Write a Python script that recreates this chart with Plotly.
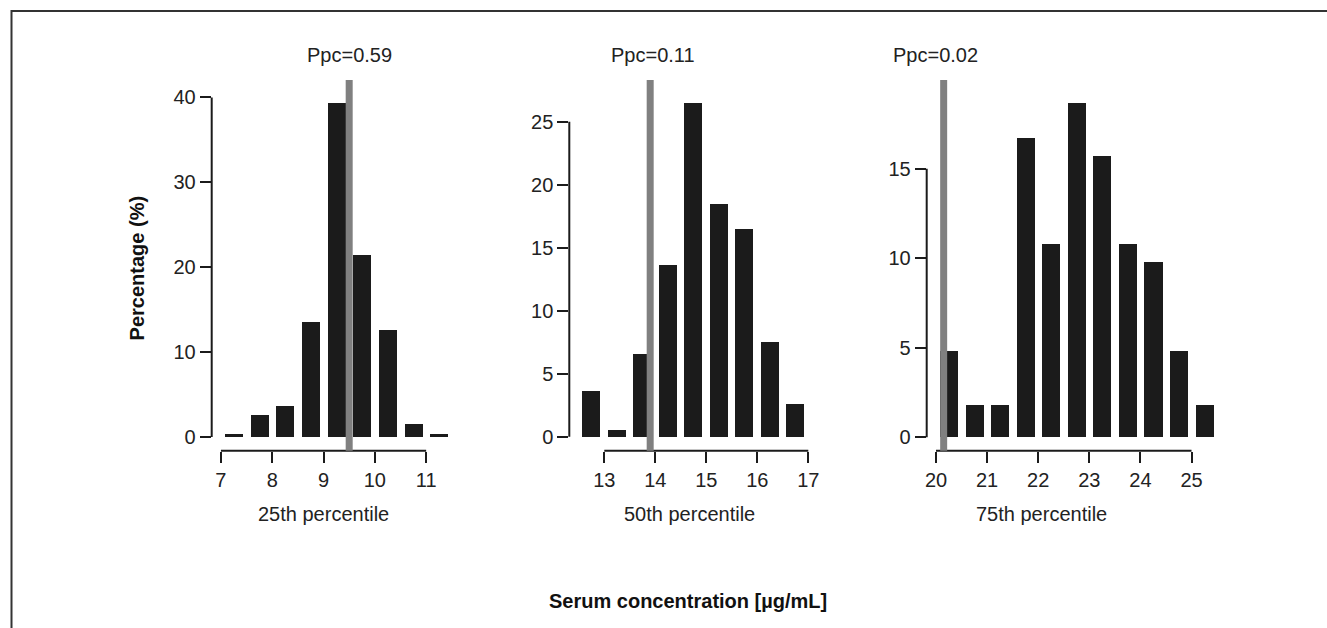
import plotly.graph_objects as go

W, H = 1327, 628

# ---------------- data ----------------
bins_25 = [7.25, 7.75, 8.25, 8.75, 9.25, 9.75, 10.25, 10.75, 11.25]
pct_25 = [0.3, 2.6, 3.6, 13.6, 39.4, 21.4, 12.6, 1.5, 0.3]

bins_50 = [12.75, 13.25, 13.75, 14.25, 14.75, 15.25, 15.75, 16.25, 16.75]
pct_50 = [3.6, 0.5, 6.6, 13.6, 26.5, 18.5, 16.5, 7.5, 2.6]

bins_75 = [20.25, 20.75, 21.25, 21.75, 22.25, 22.75, 23.25, 23.75, 24.25, 24.75, 25.25]
pct_75 = [4.8, 1.8, 1.8, 16.7, 10.8, 18.7, 15.7, 10.8, 9.8, 4.8, 1.8]

observed = [9.5, 13.9, 20.15]
ppc_labels = ["Ppc=0.59", "Ppc=0.11", "Ppc=0.02"]
panel_titles = ["25th percentile", "50th percentile", "75th percentile"]

xticks_25 = [7, 8, 9, 10, 11]
xticks_50 = [13, 14, 15, 16, 17]
xticks_75 = [20, 21, 22, 23, 24, 25]
yticks_25 = [0, 10, 20, 30, 40]
yticks_50 = [0, 5, 10, 15, 20, 25]
yticks_75 = [0, 5, 10, 15]

y_title = "Percentage (%)"
x_title = "Serum concentration [µg/mL]"

# ---------------- layout (pixel geometry) ----------------
FONT = "Liberation Sans, Arial, Helvetica, sans-serif"
FS = 20
INK = "#1b1b1b"

panels = [
    dict(b=bins_25, v=pct_25, xt=xticks_25, yt=yticks_25, xdom=(211.7, 451.8),
         xr=(6.82, 11.5), yr=(-1.61, 42.05), lab_shift=0, sub_x=323),
    dict(b=bins_50, v=pct_50, xt=xticks_50, yt=yticks_50, xdom=(569.3, 813.4),
         xr=(12.314, 17.1), yr=(-1.11, 28.31), lab_shift=3, sub_x=689),
    dict(b=bins_75, v=pct_75, xt=xticks_75, yt=yticks_75, xdom=(926.7, 1214.5),
         xr=(19.818, 25.45), yr=(-0.75, 19.96), lab_shift=-8, sub_x=1041),
]
ydom_px = (80, 450.7)


def px_x(p):
    return p / W


def px_y(p):
    return 1 - p / H


fig = go.Figure()
shapes = []
annotations = []
layout_axes = {}

for i, p in enumerate(panels):
    n = "" if i == 0 else str(i + 1)
    xa, ya = "x" + n, "y" + n
    fig.add_trace(go.Bar(x=p["b"], y=p["v"], width=0.355, xaxis=xa, yaxis=ya,
                         marker=dict(color=INK, line=dict(width=0)),
                         hoverinfo="skip", showlegend=False))
    layout_axes["xaxis" + n] = dict(
        domain=[px_x(p["xdom"][0]), px_x(p["xdom"][1])], range=list(p["xr"]),
        anchor=ya, tickmode="array", tickvals=p["xt"], ticktext=[str(t) for t in p["xt"]],
        ticks="outside", ticklen=11, tickwidth=2, tickcolor=INK,
        showline=False, showgrid=False, zeroline=False, fixedrange=True,
        tickfont=dict(family=FONT, size=FS, color="#222"))
    layout_axes["yaxis" + n] = dict(
        domain=[px_y(ydom_px[1]), px_y(ydom_px[0])], range=list(p["yr"]),
        anchor=xa, tickmode="array", tickvals=p["yt"], ticktext=[str(t) for t in p["yt"]],
        ticks="outside", ticklen=11, tickwidth=2, tickcolor=INK,
        showline=False, showgrid=False, zeroline=False, fixedrange=True,
        tickfont=dict(family=FONT, size=FS, color="#222"))
    # range-frame axis lines
    shapes.append(dict(type="line", xref=xa, yref=ya + " domain",
                       x0=p["xt"][0], x1=p["xt"][-1], y0=0, y1=0,
                       line=dict(color=INK, width=2)))
    shapes.append(dict(type="line", xref=xa + " domain", yref=ya,
                       x0=0, x1=0, y0=p["yt"][0], y1=p["yt"][-1],
                       line=dict(color=INK, width=2)))
    # observed value line
    shapes.append(dict(type="line", xref=xa, yref=ya + " domain",
                       x0=observed[i], x1=observed[i], y0=0, y1=1,
                       line=dict(color="#808080", width=7), layer="above"))
    annotations.append(dict(text=ppc_labels[i], xref=xa, yref="paper",
                            x=observed[i], y=px_y(55), xshift=p["lab_shift"],
                            xanchor="center", yanchor="middle", showarrow=False,
                            font=dict(family=FONT, size=FS, color="#222")))
    annotations.append(dict(text=panel_titles[i], xref="paper", yref="paper",
                            x=px_x(p["sub_x"]), y=px_y(514),
                            xanchor="center", yanchor="middle", showarrow=False,
                            font=dict(family=FONT, size=FS, color="#222")))

annotations.append(dict(text="<b>" + y_title + "</b>", xref="paper", yref="paper",
                        x=px_x(136.7), y=px_y(267.7), textangle=-90,
                        xanchor="center", yanchor="middle", showarrow=False,
                        font=dict(family=FONT, size=FS, color="#111")))
annotations.append(dict(text="<b>" + x_title + "</b>", xref="paper", yref="paper",
                        x=px_x(687.5), y=px_y(601), xanchor="center", yanchor="middle",
                        showarrow=False, font=dict(family=FONT, size=FS, color="#111")))

# outer frame (top and left edges visible)
shapes.append(dict(type="rect", xref="paper", yref="paper",
                   x0=px_x(11.5), x1=1.2, y0=-0.2, y1=px_y(11),
                   line=dict(color="#333", width=2), layer="below"))

fig.update_layout(width=W, height=H, margin=dict(l=0, r=0, t=0, b=0, autoexpand=False),
                  paper_bgcolor="white", plot_bgcolor="white", bargap=0,
                  shapes=shapes, annotations=annotations, showlegend=False,
                  hovermode=False, **layout_axes)

fig.write_html("out.html", config={"displayModeBar": False})
